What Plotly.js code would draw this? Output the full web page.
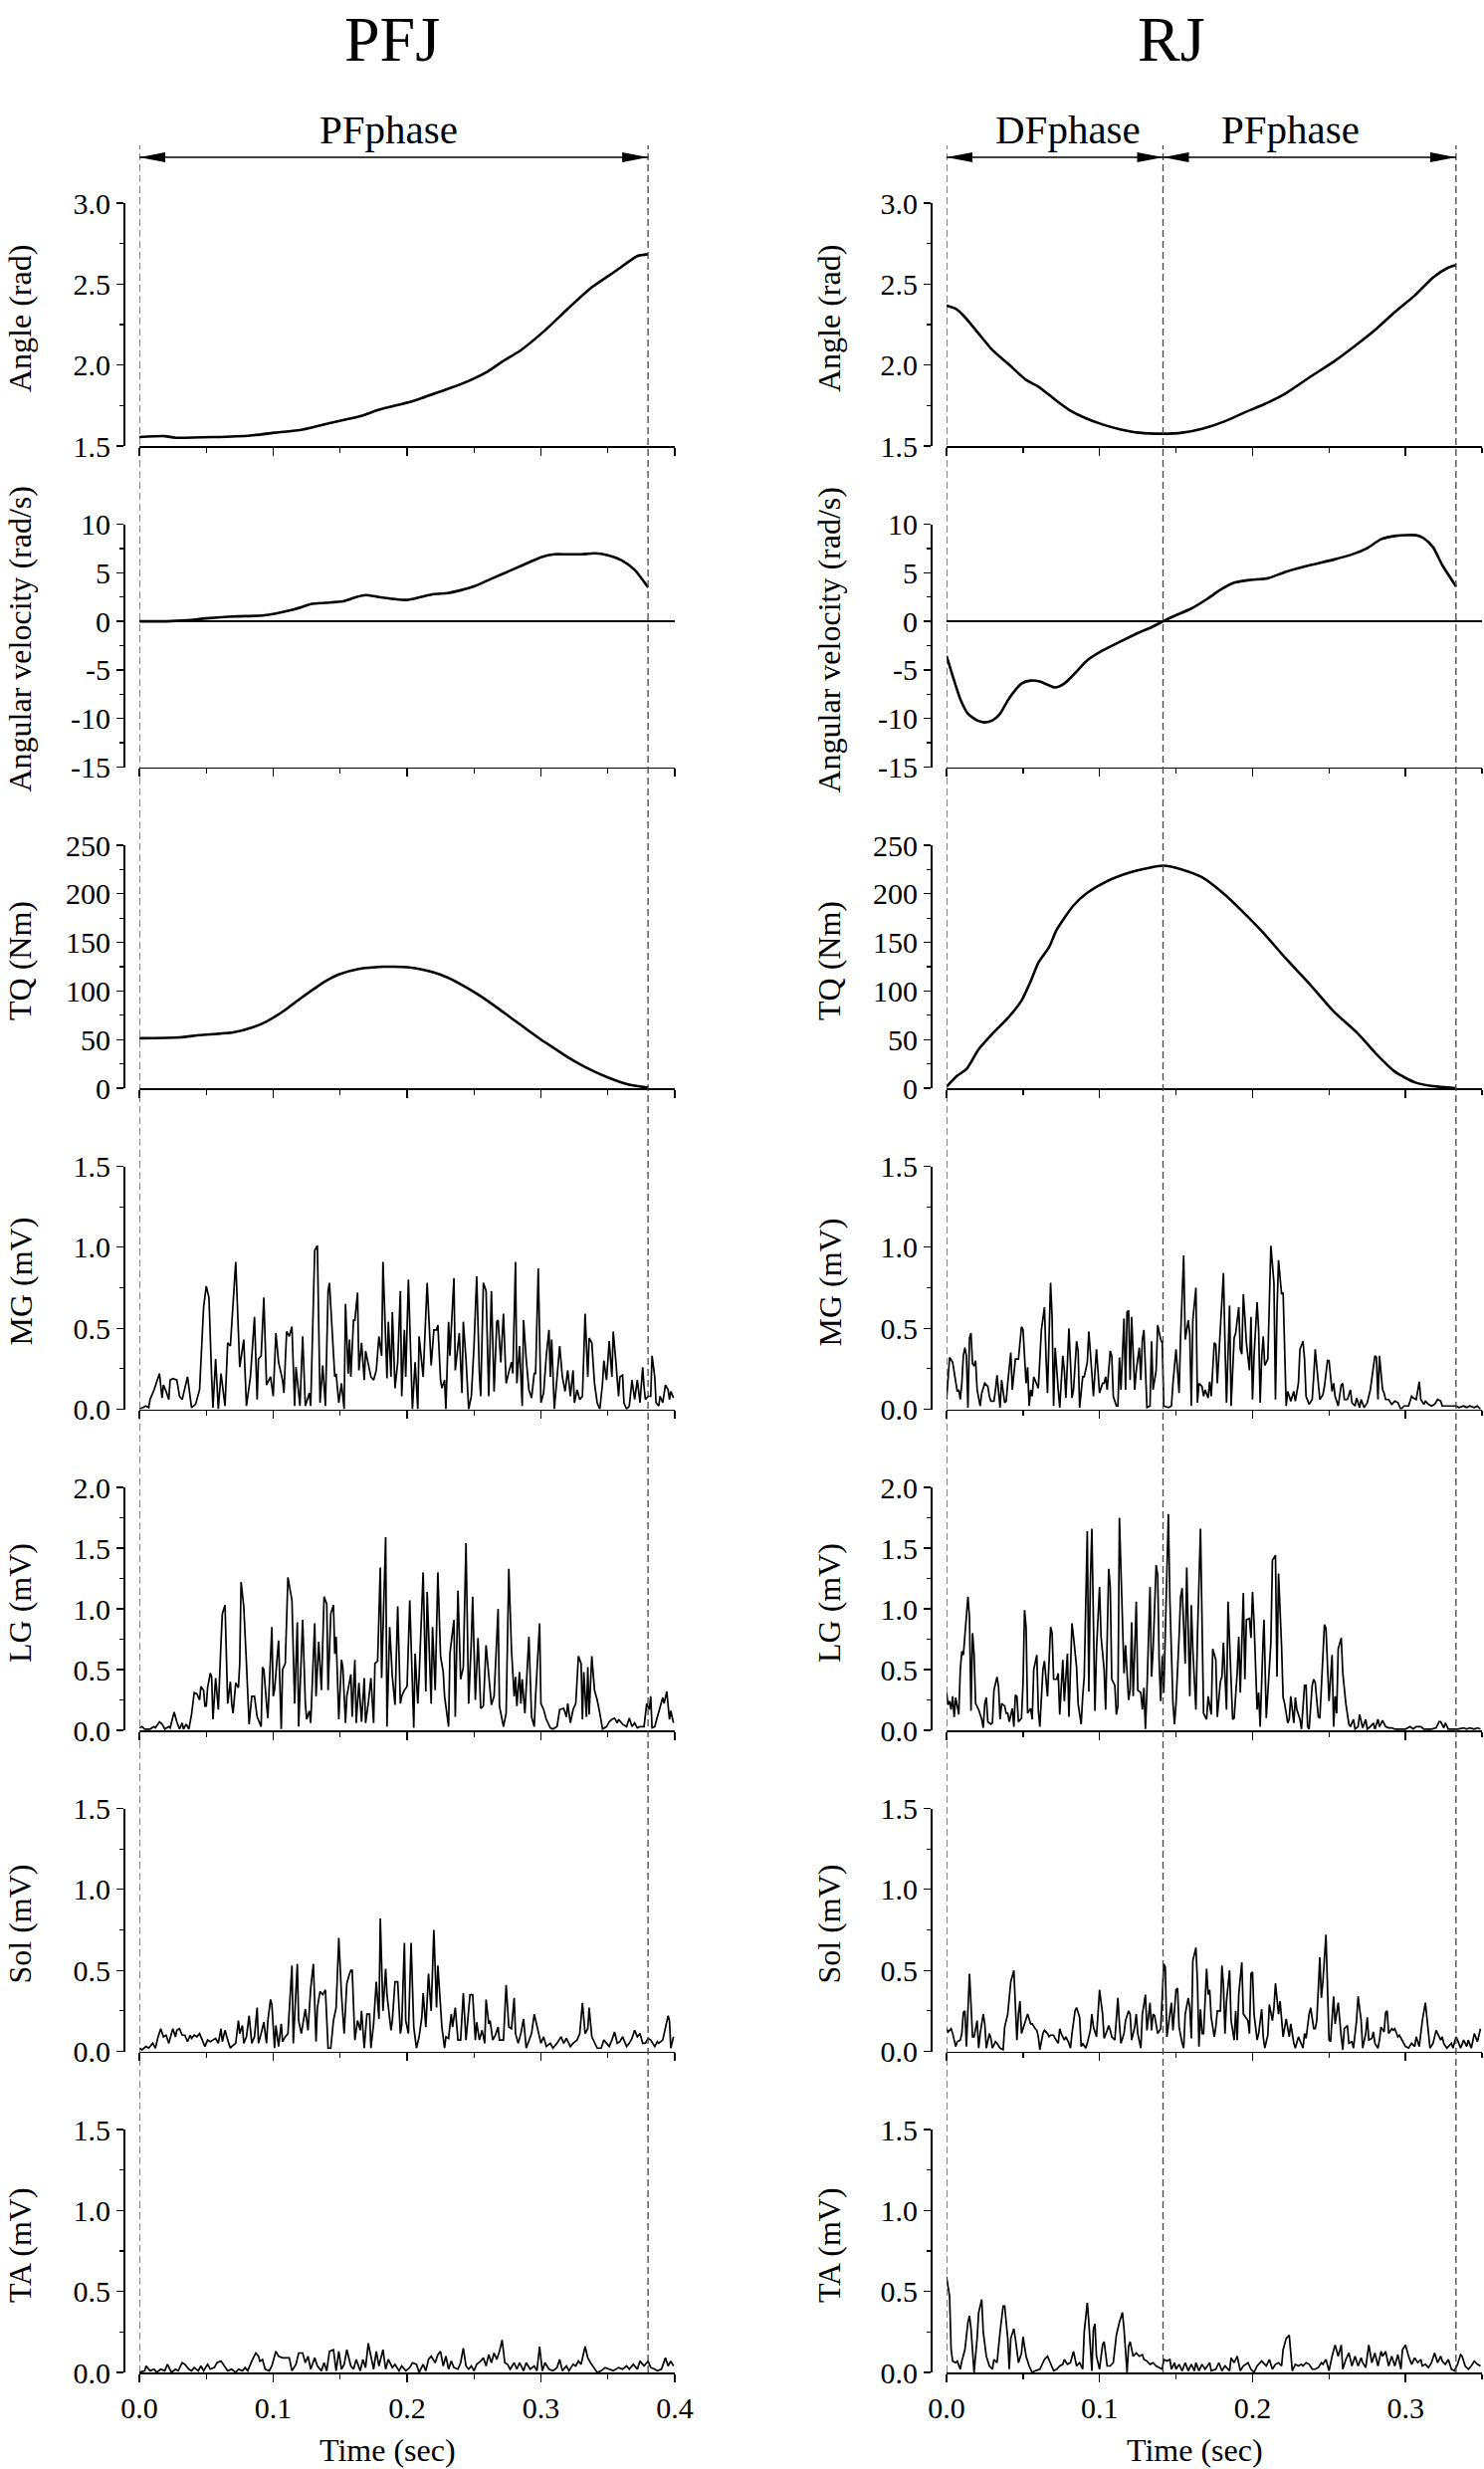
<!DOCTYPE html>
<html>
<head>
<meta charset="utf-8">
<script src="https://cdn.plot.ly/plotly-3.0.1.min.js"></script>
<style>
  html, body { margin: 0; padding: 0; background: #fff; }
</style>
</head>
<body>
<div id="chart" style="width:1491px;height:2480px"></div>
<script>
// ---- data: [time (s), value] ----

// PFJ column
const pfjAngle = [[0,1.555],[0.019,1.561],[0.027,1.551],[0.055,1.555],[0.083,1.565],[0.101,1.582],[0.122,1.602],[0.143,1.643],[0.165,1.684],[0.179,1.724],[0.204,1.776],[0.225,1.837],[0.242,1.888],[0.260,1.959],[0.271,2.020],[0.285,2.092],[0.303,2.214],[0.320,2.347],[0.338,2.480],[0.356,2.582],[0.372,2.673],[0.380,2.684]];

const pfjVel = [[0,0],[0.02,0],[0.035,0.1],[0.05,0.3],[0.07,0.5],[0.092,0.6],[0.102,0.8],[0.112,1.1],[0.122,1.5],[0.129,1.8],[0.139,1.9],[0.152,2.05],[0.162,2.5],[0.169,2.7],[0.179,2.5],[0.19,2.3],[0.2,2.2],[0.21,2.5],[0.22,2.8],[0.23,2.9],[0.24,3.2],[0.25,3.6],[0.26,4.2],[0.27,4.8],[0.28,5.4],[0.29,6.0],[0.30,6.6],[0.31,6.9],[0.32,6.9],[0.33,6.9],[0.34,7.0],[0.35,6.8],[0.36,6.3],[0.37,5.3],[0.38,3.5]];

const pfjTq = [[0,51.4],[0.03,52.3],[0.045,54.5],[0.07,57.3],[0.085,62.7],[0.095,68.6],[0.107,78.6],[0.119,91],[0.132,103.6],[0.139,110],[0.149,117],[0.164,122.7],[0.182,125],[0.19,125],[0.2,124.5],[0.21,122.5],[0.22,119],[0.23,114],[0.24,107],[0.25,99],[0.26,90],[0.27,80],[0.28,70],[0.29,60],[0.30,50],[0.31,41],[0.32,32],[0.33,24],[0.34,17],[0.35,11],[0.36,6],[0.37,2.5],[0.38,0.5]];

const pfjMg = [[0,0],[0.003,0.01],[0.005,0.02],[0.007,0.01],[0.008,0.06],[0.011,0.12],[0.014,0.20],[0.015,0.22],[0.017,0.07],[0.018,0.15],[0.020,0.11],[0.022,0.06],[0.023,0.18],[0.025,0.19],[0.028,0.18],[0.030,0.08],[0.032,0.06],[0.034,0.13],[0.036,0.20],[0.039,0.01],[0.042,0.03],[0.045,0.12],[0.048,0.63],[0.050,0.76],[0.052,0.69],[0.054,0.20],[0.055,0.01],[0.057,0.31],[0.059,0.00],[0.061,0.22],[0.063,0.09],[0.064,0.02],[0.066,0.41],[0.068,0.39],[0.072,0.91],[0.075,0.26],[0.078,0.43],[0.080,0.02],[0.083,0.20],[0.086,0.57],[0.088,0.06],[0.089,0.31],[0.091,0.33],[0.093,0.69],[0.095,0.15],[0.098,0.20],[0.100,0.08],[0.102,0.47],[0.104,0.29],[0.107,0.18],[0.108,0.10],[0.110,0.48],[0.112,0.45],[0.114,0.51],[0.116,0.02],[0.117,0.26],[0.120,0.02],[0.122,0.45],[0.124,0.02],[0.127,0.10],[0.128,0.02],[0.131,0.98],[0.133,1.01],[0.135,0.04],[0.137,0.27],[0.139,0.02],[0.141,0.73],[0.142,0.78],[0.144,0.49],[0.146,0.20],[0.147,0.22],[0.149,0.04],[0.151,0.16],[0.153,0.00],[0.154,0.65],[0.156,0.22],[0.157,0.43],[0.158,0.20],[0.160,0.55],[0.161,0.55],[0.163,0.72],[0.164,0.24],[0.166,0.41],[0.168,0.18],[0.169,0.36],[0.171,0.29],[0.173,0.20],[0.175,0.18],[0.177,0.24],[0.179,0.45],[0.181,0.33],[0.182,0.91],[0.185,0.19],[0.186,0.54],[0.188,0.20],[0.189,0.60],[0.191,0.13],[0.193,0.29],[0.195,0.73],[0.196,0.08],[0.198,0.49],[0.199,0.20],[0.201,0.80],[0.204,0.00],[0.206,0.29],[0.208,0.00],[0.209,0.45],[0.212,0.20],[0.214,0.55],[0.215,0.78],[0.218,0.27],[0.220,0.49],[0.222,0.49],[0.223,0.52],[0.225,0.18],[0.226,0.13],[0.228,0.18],[0.229,0.00],[0.231,0.54],[0.232,0.33],[0.235,0.81],[0.236,0.24],[0.239,0.47],[0.241,0.10],[0.242,0.54],[0.244,0.31],[0.246,0.00],[0.248,0.08],[0.250,0.39],[0.252,0.82],[0.254,0.22],[0.255,0.08],[0.257,0.78],[0.259,0.73],[0.261,0.08],[0.263,0.73],[0.265,0.11],[0.267,0.54],[0.268,0.55],[0.270,0.29],[0.272,0.59],[0.274,0.16],[0.276,0.23],[0.278,0.29],[0.279,0.22],[0.281,0.91],[0.282,0.16],[0.284,0.39],[0.286,0.02],[0.287,0.55],[0.289,0.31],[0.291,0.12],[0.293,0.07],[0.295,0.22],[0.296,0.22],[0.298,0.87],[0.300,0.04],[0.302,0.10],[0.304,0.33],[0.306,0.49],[0.307,0.20],[0.308,0.43],[0.310,0.00],[0.312,0.19],[0.314,0.39],[0.316,0.20],[0.318,0.11],[0.320,0.24],[0.322,0.08],[0.324,0.24],[0.325,0.04],[0.327,0.12],[0.329,0.06],[0.331,0.08],[0.333,0.59],[0.335,0.20],[0.336,0.44],[0.338,0.41],[0.340,0.16],[0.342,0.04],[0.344,0.00],[0.346,0.16],[0.347,0.30],[0.349,0.18],[0.351,0.42],[0.353,0.20],[0.354,0.48],[0.356,0.29],[0.358,0.08],[0.359,0.20],[0.361,0.21],[0.362,0.04],[0.364,0.00],[0.366,0.02],[0.368,0.18],[0.370,0.06],[0.372,0.18],[0.374,0.04],[0.376,0.26],[0.377,0.14],[0.378,0.06],[0.380,0.08],[0.382,0.08],[0.383,0.33],[0.385,0.20],[0.386,0.04],[0.388,0.02],[0.389,0.08],[0.391,0.04],[0.393,0.15],[0.395,0.12],[0.396,0.06],[0.397,0.11],[0.399,0.07]];

const pfjLg = [[0,0.02],[0.002,0.03],[0.004,0.01],[0.008,0.01],[0.011,0.03],[0.012,0.02],[0.015,0.07],[0.017,0.05],[0.019,0.01],[0.022,0.03],[0.023,0.02],[0.026,0.15],[0.028,0.07],[0.030,0.01],[0.032,0.06],[0.033,0.01],[0.035,0.05],[0.037,0.01],[0.039,0.13],[0.041,0.31],[0.043,0.30],[0.045,0.25],[0.046,0.36],[0.048,0.33],[0.049,0.20],[0.050,0.20],[0.051,0.35],[0.053,0.47],[0.054,0.44],[0.055,0.09],[0.057,0.43],[0.059,0.17],[0.061,0.72],[0.062,0.96],[0.064,1.03],[0.066,0.22],[0.068,0.40],[0.069,0.22],[0.070,0.14],[0.072,0.39],[0.074,0.35],[0.075,0.55],[0.076,1.22],[0.078,1.02],[0.080,0.55],[0.082,0.05],[0.084,0.28],[0.086,0.28],[0.088,0.11],[0.091,0.03],[0.092,0.52],[0.093,0.50],[0.095,0.22],[0.096,0.10],[0.099,0.85],[0.100,0.28],[0.101,0.33],[0.103,0.66],[0.104,0.74],[0.106,0.01],[0.107,0.50],[0.109,0.55],[0.111,1.26],[0.114,1.07],[0.116,0.22],[0.118,0.89],[0.119,0.03],[0.122,0.91],[0.124,0.22],[0.125,0.09],[0.127,0.16],[0.128,0.06],[0.131,0.88],[0.132,0.28],[0.134,0.73],[0.136,0.33],[0.138,1.10],[0.140,1.04],[0.141,0.33],[0.143,0.96],[0.145,1.03],[0.146,0.63],[0.147,0.77],[0.149,0.09],[0.151,0.58],[0.152,0.52],[0.154,0.06],[0.155,0.28],[0.158,0.46],[0.159,0.11],[0.161,0.58],[0.162,0.06],[0.164,0.39],[0.166,0.07],[0.168,0.43],[0.169,0.06],[0.171,0.22],[0.173,0.43],[0.175,0.06],[0.176,0.55],[0.178,0.57],[0.180,1.34],[0.181,0.43],[0.184,1.59],[0.185,0.03],[0.187,0.85],[0.189,0.44],[0.191,0.21],[0.193,1.02],[0.195,0.22],[0.196,0.28],[0.198,0.33],[0.200,0.36],[0.202,1.07],[0.205,0.02],[0.206,0.63],[0.208,0.22],[0.209,0.44],[0.212,1.30],[0.214,0.32],[0.215,1.14],[0.218,0.22],[0.219,0.85],[0.221,0.33],[0.223,1.30],[0.225,0.61],[0.227,0.48],[0.228,0.28],[0.231,0.03],[0.232,0.63],[0.235,0.91],[0.236,0.11],[0.238,1.15],[0.240,0.42],[0.242,0.52],[0.244,1.54],[0.246,0.22],[0.248,0.74],[0.249,1.10],[0.251,0.25],[0.253,0.76],[0.255,0.18],[0.257,0.20],[0.259,0.70],[0.261,0.44],[0.263,0.21],[0.265,0.28],[0.268,1.00],[0.269,0.20],[0.272,0.03],[0.274,0.14],[0.276,1.33],[0.278,0.66],[0.280,0.28],[0.281,0.44],[0.282,0.20],[0.284,0.48],[0.285,0.22],[0.286,0.42],[0.288,0.14],[0.291,0.77],[0.293,0.11],[0.295,0.03],[0.296,0.28],[0.299,0.88],[0.300,0.22],[0.302,0.17],[0.304,0.09],[0.307,0.02],[0.309,0.01],[0.312,0.03],[0.314,0.17],[0.317,0.18],[0.319,0.11],[0.320,0.22],[0.322,0.06],[0.324,0.17],[0.326,0.22],[0.328,0.61],[0.330,0.55],[0.331,0.09],[0.332,0.48],[0.334,0.11],[0.335,0.52],[0.336,0.13],[0.338,0.61],[0.340,0.33],[0.342,0.25],[0.344,0.14],[0.346,0.01],[0.349,0.03],[0.351,0.07],[0.353,0.09],[0.355,0.10],[0.357,0.06],[0.358,0.09],[0.361,0.05],[0.364,0.03],[0.366,0.10],[0.368,0.03],[0.370,0.06],[0.372,0.02],[0.374,0.03],[0.377,0.03],[0.379,0.22],[0.381,0.17],[0.382,0.28],[0.383,0.02],[0.385,0.03],[0.387,0.11],[0.388,0.16],[0.391,0.27],[0.392,0.22],[0.394,0.32],[0.396,0.09],[0.397,0.16],[0.399,0.06]];

const pfjSol = [[0,0.02],[0.002,0.01],[0.005,0.03],[0.007,0.02],[0.010,0.05],[0.012,0.02],[0.014,0.09],[0.016,0.14],[0.018,0.09],[0.020,0.10],[0.022,0.05],[0.024,0.11],[0.025,0.14],[0.027,0.09],[0.028,0.13],[0.030,0.14],[0.032,0.10],[0.034,0.10],[0.036,0.06],[0.038,0.10],[0.039,0.08],[0.041,0.10],[0.043,0.09],[0.045,0.11],[0.047,0.07],[0.049,0.03],[0.051,0.07],[0.053,0.06],[0.055,0.07],[0.057,0.08],[0.059,0.05],[0.061,0.14],[0.062,0.06],[0.064,0.13],[0.066,0.07],[0.068,0.02],[0.069,0.03],[0.072,0.05],[0.074,0.19],[0.075,0.11],[0.077,0.16],[0.078,0.05],[0.080,0.09],[0.082,0.22],[0.084,0.05],[0.086,0.09],[0.088,0.27],[0.089,0.05],[0.091,0.11],[0.093,0.18],[0.095,0.05],[0.096,0.19],[0.098,0.32],[0.099,0.29],[0.101,0.02],[0.102,0.16],[0.104,0.03],[0.106,0.17],[0.107,0.06],[0.109,0.09],[0.111,0.11],[0.114,0.53],[0.115,0.05],[0.118,0.54],[0.119,0.19],[0.121,0.11],[0.122,0.16],[0.124,0.26],[0.126,0.13],[0.128,0.39],[0.130,0.54],[0.132,0.06],[0.133,0.27],[0.135,0.37],[0.137,0.35],[0.139,0.38],[0.141,0.02],[0.143,0.02],[0.145,0.19],[0.147,0.27],[0.149,0.70],[0.151,0.35],[0.153,0.11],[0.155,0.42],[0.157,0.48],[0.158,0.50],[0.159,0.50],[0.161,0.07],[0.163,0.19],[0.165,0.13],[0.166,0.25],[0.168,0.02],[0.170,0.23],[0.172,0.23],[0.173,0.02],[0.175,0.17],[0.177,0.43],[0.179,0.20],[0.180,0.82],[0.182,0.25],[0.184,0.51],[0.185,0.35],[0.188,0.13],[0.189,0.19],[0.191,0.43],[0.193,0.43],[0.195,0.11],[0.196,0.16],[0.198,0.67],[0.199,0.19],[0.201,0.11],[0.203,0.67],[0.205,0.15],[0.207,0.02],[0.209,0.09],[0.211,0.21],[0.212,0.36],[0.214,0.15],[0.216,0.48],[0.218,0.25],[0.220,0.75],[0.222,0.27],[0.223,0.53],[0.226,0.15],[0.228,0.02],[0.229,0.09],[0.231,0.08],[0.233,0.23],[0.234,0.15],[0.236,0.27],[0.238,0.07],[0.240,0.07],[0.242,0.36],[0.244,0.07],[0.245,0.16],[0.247,0.35],[0.249,0.35],[0.251,0.07],[0.252,0.18],[0.254,0.07],[0.256,0.13],[0.258,0.05],[0.259,0.32],[0.261,0.17],[0.262,0.19],[0.264,0.07],[0.266,0.10],[0.268,0.15],[0.269,0.07],[0.272,0.07],[0.274,0.41],[0.276,0.15],[0.278,0.14],[0.280,0.33],[0.281,0.11],[0.283,0.05],[0.285,0.11],[0.287,0.20],[0.289,0.02],[0.291,0.07],[0.293,0.11],[0.295,0.23],[0.296,0.19],[0.298,0.11],[0.300,0.05],[0.302,0.09],[0.304,0.03],[0.307,0.05],[0.309,0.02],[0.312,0.05],[0.315,0.09],[0.317,0.05],[0.319,0.08],[0.322,0.03],[0.324,0.05],[0.327,0.07],[0.329,0.11],[0.331,0.30],[0.333,0.11],[0.335,0.14],[0.336,0.27],[0.338,0.09],[0.340,0.05],[0.342,0.02],[0.345,0.02],[0.347,0.07],[0.349,0.05],[0.351,0.03],[0.353,0.07],[0.355,0.12],[0.357,0.05],[0.359,0.06],[0.361,0.09],[0.364,0.03],[0.366,0.05],[0.368,0.08],[0.370,0.13],[0.372,0.09],[0.374,0.11],[0.376,0.05],[0.378,0.05],[0.380,0.08],[0.382,0.07],[0.385,0.03],[0.387,0.06],[0.388,0.05],[0.391,0.07],[0.393,0.14],[0.395,0.22],[0.396,0.19],[0.397,0.02],[0.399,0.09]];

const pfjTa = [[0,0],[0.004,0.01],[0.005,0.04],[0.008,0.01],[0.011,0.02],[0.013,0.00],[0.016,0.02],[0.019,0.01],[0.021,0.05],[0.024,0.00],[0.027,0.02],[0.029,0.01],[0.032,0.06],[0.034,0.05],[0.037,0.02],[0.039,0.01],[0.041,0.03],[0.044,0.01],[0.046,0.04],[0.048,0.01],[0.051,0.05],[0.053,0.02],[0.056,0.03],[0.058,0.06],[0.061,0.07],[0.064,0.03],[0.066,0.01],[0.069,0.02],[0.072,0.00],[0.074,0.02],[0.077,0.01],[0.079,0.03],[0.081,0.01],[0.084,0.07],[0.087,0.12],[0.089,0.10],[0.090,0.07],[0.092,0.08],[0.094,0.02],[0.097,0.01],[0.099,0.04],[0.102,0.13],[0.104,0.10],[0.107,0.09],[0.110,0.09],[0.112,0.09],[0.114,0.01],[0.117,0.05],[0.119,0.12],[0.122,0.12],[0.124,0.06],[0.126,0.10],[0.128,0.02],[0.131,0.09],[0.133,0.04],[0.136,0.01],[0.138,0.06],[0.140,0.01],[0.142,0.13],[0.145,0.14],[0.147,0.01],[0.149,0.13],[0.151,0.02],[0.153,0.05],[0.155,0.14],[0.158,0.04],[0.160,0.02],[0.162,0.08],[0.165,0.01],[0.167,0.08],[0.169,0.03],[0.171,0.18],[0.173,0.10],[0.175,0.02],[0.177,0.13],[0.179,0.04],[0.182,0.14],[0.184,0.02],[0.186,0.08],[0.189,0.03],[0.191,0.05],[0.194,0.01],[0.196,0.04],[0.199,0.01],[0.202,0.03],[0.204,0.06],[0.207,0.05],[0.209,0.00],[0.212,0.05],[0.214,0.01],[0.216,0.08],[0.218,0.10],[0.221,0.06],[0.223,0.11],[0.225,0.13],[0.227,0.04],[0.229,0.10],[0.231,0.02],[0.233,0.07],[0.235,0.03],[0.238,0.02],[0.240,0.06],[0.242,0.15],[0.244,0.04],[0.246,0.02],[0.248,0.04],[0.250,0.01],[0.252,0.05],[0.255,0.07],[0.257,0.09],[0.259,0.04],[0.261,0.11],[0.263,0.06],[0.265,0.12],[0.267,0.08],[0.269,0.13],[0.271,0.20],[0.273,0.06],[0.275,0.05],[0.277,0.02],[0.280,0.06],[0.282,0.02],[0.284,0.06],[0.287,0.01],[0.289,0.06],[0.292,0.02],[0.295,0.04],[0.297,0.01],[0.299,0.16],[0.301,0.01],[0.303,0.06],[0.306,0.02],[0.309,0.01],[0.312,0.03],[0.314,0.08],[0.316,0.01],[0.319,0.04],[0.321,0.01],[0.324,0.05],[0.326,0.04],[0.328,0.07],[0.330,0.05],[0.333,0.16],[0.335,0.09],[0.337,0.06],[0.340,0.02],[0.342,0.00],[0.345,0.01],[0.348,0.03],[0.351,0.02],[0.354,0.01],[0.358,0.03],[0.361,0.02],[0.364,0.04],[0.366,0.02],[0.369,0.05],[0.372,0.02],[0.374,0.07],[0.377,0.04],[0.380,0.07],[0.382,0.03],[0.385,0.02],[0.387,0.01],[0.390,0.02],[0.393,0.09],[0.395,0.04],[0.397,0.07],[0.399,0.04]];

// RJ column
const rjAngle = [[0,2.367],[0.006,2.347],[0.012,2.296],[0.021,2.194],[0.030,2.092],[0.040,2.010],[0.052,1.908],[0.060,1.867],[0.071,1.786],[0.080,1.724],[0.089,1.680],[0.102,1.633],[0.114,1.602],[0.126,1.582],[0.1415,1.576],[0.154,1.582],[0.167,1.606],[0.182,1.653],[0.194,1.704],[0.207,1.755],[0.222,1.827],[0.238,1.929],[0.253,2.020],[0.269,2.133],[0.281,2.224],[0.293,2.327],[0.306,2.429],[0.318,2.541],[0.328,2.602],[0.333,2.618]];

const rjVel = [[0,-3.56],[0.004,-5.6],[0.009,-8.0],[0.014,-9.5],[0.020,-10.2],[0.025,-10.4],[0.030,-10.2],[0.035,-9.5],[0.041,-7.9],[0.049,-6.4],[0.055,-6.1],[0.061,-6.2],[0.071,-6.8],[0.077,-6.4],[0.083,-5.5],[0.092,-4.0],[0.102,-3.0],[0.114,-2.05],[0.126,-1.14],[0.133,-0.68],[0.1415,0],[0.148,0.5],[0.160,1.32],[0.171,2.37],[0.179,3.24],[0.188,3.97],[0.198,4.25],[0.210,4.43],[0.222,5.11],[0.238,5.8],[0.253,6.35],[0.266,6.94],[0.275,7.53],[0.284,8.45],[0.294,8.81],[0.307,8.86],[0.312,8.54],[0.318,7.63],[0.324,5.8],[0.333,3.6]];

const rjTq = [[0,1.4],[0.007,12.7],[0.013,19.5],[0.021,40],[0.030,56],[0.040,72],[0.049,90],[0.055,110],[0.060,129],[0.067,145],[0.072,163],[0.083,188],[0.092,201],[0.105,213],[0.120,222],[0.133,227],[0.1415,229],[0.154,225],[0.167,217],[0.182,199],[0.194,181],[0.207,160],[0.222,133],[0.238,106],[0.253,79],[0.269,56],[0.281,35],[0.293,17],[0.306,6],[0.318,2],[0.333,0]];

const rjMg = [[0,0.06],[0.001,0.20],[0.002,0.32],[0.004,0.29],[0.006,0.16],[0.007,0.11],[0.008,0.12],[0.009,0.06],[0.010,0.16],[0.011,0.33],[0.012,0.38],[0.013,0.33],[0.014,0.01],[0.015,0.44],[0.016,0.47],[0.017,0.28],[0.018,0.27],[0.019,0.30],[0.020,0.12],[0.022,0.02],[0.023,0.10],[0.025,0.16],[0.027,0.14],[0.028,0.08],[0.029,0.05],[0.031,0.05],[0.032,0.12],[0.033,0.21],[0.035,0.01],[0.036,0.18],[0.038,0.04],[0.039,0.05],[0.040,0.16],[0.042,0.35],[0.043,0.12],[0.045,0.31],[0.047,0.31],[0.048,0.41],[0.049,0.51],[0.050,0.49],[0.052,0.16],[0.053,0.26],[0.054,0.02],[0.055,0.12],[0.056,0.08],[0.057,0.20],[0.059,0.16],[0.060,0.13],[0.062,0.49],[0.064,0.63],[0.065,0.33],[0.066,0.10],[0.068,0.78],[0.069,0.57],[0.070,0.02],[0.071,0.38],[0.073,0.12],[0.074,0.01],[0.076,0.33],[0.077,0.24],[0.078,0.07],[0.080,0.50],[0.081,0.29],[0.082,0.07],[0.083,0.12],[0.085,0.42],[0.086,0.36],[0.087,0.01],[0.089,0.20],[0.090,0.20],[0.092,0.29],[0.093,0.48],[0.095,0.22],[0.096,0.08],[0.098,0.37],[0.099,0.20],[0.100,0.10],[0.102,0.16],[0.103,0.16],[0.104,0.20],[0.105,0.12],[0.107,0.36],[0.108,0.33],[0.109,0.08],[0.111,0.02],[0.112,0.02],[0.113,0.32],[0.114,0.12],[0.116,0.56],[0.117,0.12],[0.118,0.60],[0.119,0.61],[0.120,0.18],[0.121,0.57],[0.123,0.12],[0.124,0.24],[0.126,0.38],[0.127,0.18],[0.128,0.43],[0.129,0.49],[0.130,0.24],[0.131,0.01],[0.133,0.02],[0.134,0.42],[0.135,0.12],[0.137,0.24],[0.138,0.52],[0.140,0.43],[0.141,0.41],[0.142,0.02],[0.145,0.01],[0.147,0.02],[0.148,0.16],[0.150,0.37],[0.151,0.24],[0.152,0.10],[0.153,0.45],[0.155,0.95],[0.156,0.43],[0.158,0.55],[0.159,0.46],[0.160,0.02],[0.161,0.55],[0.163,0.75],[0.164,0.04],[0.165,0.16],[0.167,0.14],[0.168,0.08],[0.169,0.12],[0.171,0.07],[0.172,0.17],[0.173,0.08],[0.175,0.41],[0.176,0.40],[0.177,0.16],[0.179,0.50],[0.181,0.84],[0.182,0.41],[0.183,0.04],[0.185,0.64],[0.186,0.02],[0.188,0.44],[0.189,0.47],[0.191,0.63],[0.192,0.37],[0.193,0.34],[0.194,0.71],[0.195,0.57],[0.196,0.41],[0.198,0.24],[0.199,0.57],[0.200,0.06],[0.201,0.33],[0.203,0.66],[0.204,0.49],[0.205,0.04],[0.206,0.32],[0.207,0.45],[0.208,0.27],[0.210,0.31],[0.211,0.71],[0.212,1.01],[0.214,0.78],[0.215,0.06],[0.216,0.61],[0.217,0.92],[0.219,0.71],[0.220,0.72],[0.222,0.02],[0.223,0.11],[0.225,0.05],[0.227,0.11],[0.228,0.05],[0.230,0.16],[0.231,0.37],[0.233,0.42],[0.234,0.31],[0.235,0.08],[0.237,0.03],[0.239,0.06],[0.240,0.20],[0.241,0.37],[0.243,0.16],[0.244,0.06],[0.246,0.09],[0.247,0.14],[0.249,0.30],[0.250,0.30],[0.252,0.11],[0.253,0.16],[0.254,0.08],[0.256,0.02],[0.258,0.15],[0.259,0.16],[0.260,0.06],[0.262,0.06],[0.264,0.12],[0.265,0.04],[0.267,0.02],[0.268,0.07],[0.270,0.01],[0.271,0.06],[0.273,0.01],[0.275,0.04],[0.277,0.12],[0.278,0.20],[0.280,0.33],[0.281,0.32],[0.282,0.06],[0.283,0.33],[0.285,0.12],[0.286,0.10],[0.287,0.06],[0.289,0.06],[0.291,0.03],[0.293,0.05],[0.295,0.04],[0.297,0.00],[0.299,0.02],[0.302,0.02],[0.304,0.08],[0.305,0.07],[0.307,0.06],[0.309,0.17],[0.310,0.06],[0.312,0.03],[0.313,0.05],[0.315,0.03],[0.317,0.02],[0.319,0.03],[0.321,0.06],[0.323,0.05],[0.324,0.02],[0.326,0.02],[0.328,0.02],[0.331,0.02],[0.333,0.02],[0.335,0.01],[0.338,0.02],[0.340,0.01],[0.342,0.02],[0.345,0.01],[0.347,0.02],[0.349,0.00]];

const rjLg = [[0,0.31],[0.001,0.21],[0.002,0.24],[0.003,0.17],[0.004,0.28],[0.005,0.11],[0.006,0.27],[0.007,0.20],[0.008,0.13],[0.009,0.50],[0.010,0.65],[0.011,0.62],[0.012,0.77],[0.014,1.10],[0.015,0.93],[0.016,0.16],[0.017,0.80],[0.018,0.63],[0.019,0.22],[0.020,0.20],[0.021,0.17],[0.023,0.09],[0.024,0.02],[0.025,0.22],[0.026,0.27],[0.027,0.07],[0.029,0.05],[0.030,0.06],[0.031,0.33],[0.033,0.44],[0.034,0.36],[0.035,0.09],[0.036,0.22],[0.038,0.20],[0.039,0.14],[0.040,0.14],[0.041,0.07],[0.043,0.18],[0.044,0.03],[0.045,0.29],[0.046,0.28],[0.047,0.07],[0.049,0.10],[0.050,0.39],[0.051,0.99],[0.052,0.85],[0.053,0.14],[0.055,0.18],[0.056,0.09],[0.057,0.50],[0.059,0.62],[0.060,0.16],[0.061,0.03],[0.063,0.50],[0.064,0.57],[0.066,0.28],[0.068,0.85],[0.069,0.80],[0.070,0.42],[0.072,0.42],[0.073,0.47],[0.074,0.13],[0.076,0.58],[0.077,0.24],[0.079,0.63],[0.080,0.11],[0.082,0.88],[0.083,0.77],[0.085,0.52],[0.086,0.22],[0.088,0.05],[0.089,0.28],[0.090,0.44],[0.092,1.64],[0.093,0.32],[0.094,1.23],[0.095,1.66],[0.097,0.16],[0.098,0.66],[0.100,1.18],[0.101,0.77],[0.103,0.50],[0.104,0.17],[0.106,1.33],[0.107,1.18],[0.108,0.42],[0.110,0.37],[0.111,0.13],[0.112,0.20],[0.113,1.75],[0.115,0.80],[0.116,0.47],[0.117,0.70],[0.119,0.25],[0.120,0.33],[0.121,0.89],[0.122,0.28],[0.124,1.06],[0.125,0.33],[0.127,0.31],[0.128,0.17],[0.129,0.35],[0.130,0.01],[0.131,0.33],[0.133,1.18],[0.134,0.44],[0.135,0.66],[0.137,1.36],[0.138,1.28],[0.139,0.55],[0.140,0.24],[0.141,0.61],[0.142,0.31],[0.144,1.23],[0.145,1.78],[0.146,1.07],[0.148,0.22],[0.149,0.05],[0.150,0.22],[0.152,0.77],[0.153,1.10],[0.154,1.17],[0.156,0.55],[0.157,1.34],[0.159,0.28],[0.160,1.03],[0.161,0.66],[0.163,0.17],[0.164,0.77],[0.166,1.66],[0.167,0.66],[0.168,0.14],[0.170,0.09],[0.171,0.28],[0.173,0.13],[0.174,0.67],[0.176,0.58],[0.177,0.11],[0.179,0.40],[0.180,0.44],[0.181,0.72],[0.183,0.17],[0.184,1.06],[0.186,0.31],[0.187,0.09],[0.188,0.10],[0.190,0.48],[0.191,0.77],[0.192,0.31],[0.194,1.13],[0.195,0.42],[0.196,0.91],[0.198,0.92],[0.199,0.76],[0.200,1.14],[0.201,0.89],[0.203,0.17],[0.204,0.31],[0.205,0.03],[0.207,0.77],[0.2075,0.91],[0.209,0.10],[0.210,0.28],[0.212,0.72],[0.213,1.40],[0.215,1.44],[0.216,0.44],[0.217,1.29],[0.219,0.69],[0.220,0.27],[0.221,0.22],[0.223,0.06],[0.224,0.09],[0.225,0.28],[0.227,0.06],[0.228,0.27],[0.229,0.17],[0.231,0.09],[0.232,0.01],[0.234,0.37],[0.235,0.37],[0.236,0.03],[0.237,0.01],[0.239,0.37],[0.240,0.42],[0.241,0.39],[0.243,0.11],[0.244,0.10],[0.246,0.61],[0.247,0.87],[0.248,0.84],[0.250,0.24],[0.252,0.62],[0.253,0.03],[0.254,0.28],[0.255,0.14],[0.256,0.67],[0.258,0.76],[0.259,0.47],[0.260,0.33],[0.261,0.22],[0.263,0.05],[0.264,0.03],[0.266,0.09],[0.267,0.01],[0.269,0.03],[0.270,0.13],[0.272,0.02],[0.274,0.09],[0.275,0.01],[0.277,0.03],[0.279,0.06],[0.280,0.01],[0.282,0.09],[0.283,0.03],[0.285,0.08],[0.287,0.03],[0.289,0.02],[0.291,0.02],[0.293,0.01],[0.297,0.01],[0.300,0.01],[0.303,0.03],[0.305,0.01],[0.307,0.03],[0.310,0.03],[0.312,0.01],[0.317,0.01],[0.320,0.02],[0.322,0.07],[0.323,0.07],[0.325,0.02],[0.326,0.06],[0.328,0.01],[0.331,0.01],[0.334,0.01],[0.338,0.02],[0.340,0.01],[0.342,0.02],[0.345,0.01],[0.347,0.02],[0.349,0.01]];

const rjSol = [[0,0.14],[0.001,0.12],[0.003,0.14],[0.004,0.11],[0.006,0.03],[0.007,0.06],[0.009,0.07],[0.010,0.11],[0.011,0.24],[0.012,0.25],[0.013,0.03],[0.015,0.48],[0.016,0.29],[0.017,0.09],[0.018,0.09],[0.020,0.19],[0.021,0.02],[0.022,0.11],[0.024,0.23],[0.025,0.17],[0.026,0.02],[0.028,0.11],[0.029,0.08],[0.030,0.02],[0.032,0.06],[0.033,0.05],[0.035,0.02],[0.037,0.01],[0.038,0.15],[0.040,0.23],[0.041,0.33],[0.042,0.43],[0.044,0.50],[0.045,0.31],[0.046,0.07],[0.047,0.23],[0.048,0.31],[0.049,0.11],[0.051,0.17],[0.052,0.21],[0.053,0.23],[0.055,0.17],[0.056,0.17],[0.058,0.14],[0.059,0.13],[0.060,0.09],[0.061,0.01],[0.063,0.11],[0.064,0.13],[0.066,0.11],[0.067,0.09],[0.068,0.10],[0.070,0.10],[0.071,0.08],[0.073,0.05],[0.074,0.14],[0.075,0.11],[0.077,0.07],[0.078,0.09],[0.080,0.05],[0.081,0.02],[0.082,0.11],[0.084,0.25],[0.085,0.27],[0.087,0.21],[0.088,0.03],[0.089,0.05],[0.091,0.02],[0.092,0.05],[0.094,0.13],[0.095,0.23],[0.096,0.15],[0.098,0.09],[0.099,0.23],[0.100,0.38],[0.102,0.23],[0.103,0.08],[0.105,0.13],[0.106,0.16],[0.107,0.13],[0.108,0.09],[0.110,0.07],[0.111,0.23],[0.112,0.33],[0.113,0.17],[0.114,0.05],[0.116,0.11],[0.117,0.19],[0.119,0.25],[0.120,0.23],[0.121,0.07],[0.123,0.15],[0.124,0.23],[0.125,0.11],[0.127,0.02],[0.128,0.23],[0.130,0.35],[0.131,0.13],[0.133,0.30],[0.134,0.13],[0.135,0.23],[0.136,0.22],[0.138,0.11],[0.139,0.13],[0.140,0.14],[0.142,0.54],[0.143,0.52],[0.144,0.09],[0.146,0.25],[0.147,0.30],[0.148,0.13],[0.150,0.38],[0.151,0.39],[0.152,0.15],[0.154,0.05],[0.155,0.02],[0.156,0.23],[0.158,0.33],[0.159,0.27],[0.160,0.08],[0.161,0.56],[0.163,0.64],[0.164,0.43],[0.165,0.03],[0.166,0.26],[0.167,0.11],[0.168,0.11],[0.170,0.51],[0.171,0.35],[0.172,0.38],[0.173,0.21],[0.175,0.09],[0.176,0.15],[0.177,0.25],[0.179,0.25],[0.180,0.53],[0.181,0.41],[0.182,0.11],[0.183,0.31],[0.185,0.50],[0.186,0.19],[0.188,0.07],[0.189,0.25],[0.190,0.07],[0.191,0.35],[0.193,0.55],[0.194,0.23],[0.196,0.20],[0.197,0.19],[0.198,0.11],[0.199,0.48],[0.200,0.49],[0.201,0.23],[0.203,0.07],[0.204,0.11],[0.206,0.26],[0.207,0.09],[0.208,0.02],[0.210,0.10],[0.211,0.29],[0.213,0.19],[0.214,0.27],[0.215,0.42],[0.217,0.23],[0.218,0.31],[0.220,0.09],[0.221,0.15],[0.222,0.20],[0.224,0.09],[0.225,0.17],[0.227,0.05],[0.228,0.02],[0.230,0.09],[0.231,0.07],[0.233,0.02],[0.234,0.11],[0.235,0.08],[0.237,0.23],[0.238,0.27],[0.240,0.14],[0.241,0.14],[0.242,0.19],[0.244,0.58],[0.245,0.33],[0.246,0.43],[0.248,0.72],[0.249,0.43],[0.250,0.07],[0.251,0.06],[0.253,0.34],[0.254,0.17],[0.256,0.30],[0.258,0.09],[0.259,0.01],[0.260,0.14],[0.262,0.16],[0.263,0.05],[0.265,0.06],[0.266,0.02],[0.268,0.19],[0.269,0.34],[0.271,0.19],[0.272,0.02],[0.274,0.11],[0.275,0.21],[0.276,0.07],[0.278,0.08],[0.279,0.12],[0.280,0.05],[0.282,0.02],[0.283,0.07],[0.284,0.15],[0.286,0.12],[0.287,0.24],[0.288,0.25],[0.289,0.11],[0.291,0.14],[0.292,0.13],[0.293,0.14],[0.295,0.09],[0.296,0.10],[0.298,0.06],[0.300,0.03],[0.302,0.02],[0.304,0.05],[0.306,0.03],[0.307,0.09],[0.309,0.03],[0.311,0.19],[0.313,0.30],[0.314,0.19],[0.316,0.02],[0.318,0.05],[0.320,0.13],[0.321,0.11],[0.323,0.07],[0.324,0.09],[0.325,0.05],[0.327,0.02],[0.328,0.03],[0.330,0.05],[0.331,0.02],[0.333,0.09],[0.334,0.07],[0.336,0.02],[0.338,0.07],[0.340,0.03],[0.341,0.07],[0.343,0.02],[0.345,0.11],[0.346,0.09],[0.347,0.06],[0.349,0.14]];

const rjTa = [[0,0.59],[0.002,0.47],[0.003,0.14],[0.004,0.07],[0.006,0.06],[0.007,0.07],[0.009,0.02],[0.010,0.07],[0.012,0.14],[0.014,0.31],[0.015,0.35],[0.016,0.27],[0.018,0.00],[0.020,0.21],[0.021,0.37],[0.023,0.45],[0.024,0.25],[0.026,0.10],[0.028,0.04],[0.030,0.02],[0.031,0.08],[0.033,0.06],[0.035,0.25],[0.037,0.41],[0.038,0.41],[0.040,0.21],[0.041,0.02],[0.042,0.21],[0.044,0.27],[0.045,0.21],[0.047,0.06],[0.049,0.12],[0.050,0.22],[0.052,0.10],[0.054,0.04],[0.056,0.00],[0.058,0.01],[0.061,0.02],[0.063,0.06],[0.064,0.08],[0.066,0.10],[0.068,0.06],[0.070,0.01],[0.072,0.02],[0.074,0.04],[0.076,0.05],[0.077,0.08],[0.079,0.05],[0.081,0.06],[0.083,0.13],[0.085,0.04],[0.087,0.06],[0.089,0.02],[0.090,0.25],[0.092,0.43],[0.093,0.31],[0.095,0.01],[0.096,0.27],[0.097,0.30],[0.098,0.10],[0.100,0.02],[0.102,0.17],[0.103,0.19],[0.105,0.04],[0.107,0.04],[0.109,0.06],[0.111,0.23],[0.113,0.31],[0.115,0.37],[0.116,0.27],[0.118,0.00],[0.119,0.16],[0.120,0.19],[0.122,0.10],[0.124,0.12],[0.126,0.10],[0.128,0.11],[0.129,0.08],[0.131,0.07],[0.133,0.05],[0.135,0.06],[0.137,0.04],[0.139,0.03],[0.141,0.02],[0.142,0.08],[0.144,0.07],[0.146,0.08],[0.147,0.02],[0.149,0.06],[0.150,0.02],[0.152,0.05],[0.154,0.01],[0.156,0.06],[0.158,0.01],[0.160,0.05],[0.162,0.01],[0.163,0.06],[0.165,0.01],[0.167,0.05],[0.169,0.02],[0.172,0.06],[0.173,0.01],[0.176,0.02],[0.178,0.06],[0.180,0.01],[0.182,0.04],[0.185,0.01],[0.186,0.09],[0.188,0.06],[0.190,0.10],[0.192,0.01],[0.194,0.04],[0.197,0.06],[0.199,0.02],[0.201,0.00],[0.203,0.04],[0.206,0.07],[0.207,0.06],[0.209,0.04],[0.211,0.08],[0.213,0.02],[0.215,0.05],[0.217,0.06],[0.219,0.04],[0.220,0.14],[0.222,0.21],[0.224,0.23],[0.226,0.01],[0.228,0.05],[0.230,0.04],[0.232,0.05],[0.233,0.04],[0.235,0.06],[0.237,0.05],[0.239,0.02],[0.241,0.02],[0.243,0.03],[0.245,0.06],[0.246,0.05],[0.248,0.08],[0.250,0.01],[0.252,0.10],[0.254,0.17],[0.256,0.10],[0.258,0.17],[0.259,0.02],[0.261,0.08],[0.263,0.12],[0.265,0.04],[0.267,0.10],[0.269,0.04],[0.271,0.09],[0.272,0.06],[0.274,0.03],[0.276,0.17],[0.278,0.06],[0.280,0.12],[0.282,0.04],[0.284,0.13],[0.285,0.10],[0.287,0.13],[0.289,0.04],[0.291,0.10],[0.293,0.04],[0.295,0.11],[0.297,0.02],[0.298,0.14],[0.300,0.17],[0.302,0.10],[0.304,0.05],[0.306,0.09],[0.308,0.06],[0.310,0.08],[0.311,0.04],[0.313,0.05],[0.315,0.03],[0.317,0.06],[0.319,0.12],[0.321,0.06],[0.323,0.10],[0.324,0.07],[0.326,0.05],[0.328,0.08],[0.330,0.02],[0.332,0.01],[0.334,0.05],[0.336,0.11],[0.337,0.10],[0.339,0.04],[0.341,0.02],[0.343,0.04],[0.345,0.07],[0.347,0.05],[0.349,0.04]];

// phase boundaries (s) and names
const pfjPhaseBounds = [0, 0.38];
const pfjPhaseNames = ['PFphase'];
const rjPhaseBounds = [0, 0.1415, 0.333];
const rjPhaseNames = ['DFphase', 'PFphase'];

// row labels and axis ticks
const rowLabels = ['Angle (rad)', 'Angular velocity (rad/s)', 'TQ (Nm)', 'MG (mV)', 'LG (mV)', 'Sol (mV)', 'TA (mV)'];
const velTickVals = [-15, -10, -5, 0, 5, 10];
const velTickText = ['-15', '-10', '-5', '0', '5', '10'];

// ---- layout constants (pixels in a 1491 x 2480 page) ----
const W = 1491, H = 2480;
const FONT = '"Times New Roman", "Liberation Serif", "DejaVu Serif", serif';
const TICK_SIZE = 30;
const PANEL_BOTTOM = 448, PANEL_PITCH = 322.5, PANEL_HEIGHT = 244;
const ARROW_Y = 158, DASH_TOP = 146;
const HEAD_LEN = 26, HEAD_HALF = 5;

const rows = [
  { range: [1.5, 3.0], dtick: 0.5, minor: 0.25, fmt: '.1f' },
  { range: [-15, 10], tickvals: velTickVals, ticktext: velTickText, minor: 2.5, zero: true },
  { range: [0, 250], dtick: 50, minor: 25, fmt: 'd' },
  { range: [0, 1.5], dtick: 0.5, minor: 0.25, fmt: '.1f' },
  { range: [0, 2.0], dtick: 0.5, minor: 0.25, fmt: '.1f' },
  { range: [0, 1.5], dtick: 0.5, minor: 0.25, fmt: '.1f' },
  { range: [0, 1.5], dtick: 0.5, minor: 0.25, fmt: '.1f' }
];

const columns = [
  { title: 'PFJ', titleX: 394, xStart: 140, xEnd: 678, yAxisAt: 124, labelX: 20, timeX: 389,
    xRange: [0, 0.4], bounds: pfjPhaseBounds, names: pfjPhaseNames, nameShift: [-5],
    series: [pfjAngle, pfjVel, pfjTq, pfjMg, pfjLg, pfjSol, pfjTa] },
  { title: 'RJ', titleX: 1177, xStart: 951, xEnd: 1489, yAxisAt: 935, labelX: 833, timeX: 1200,
    xRange: [0, 0.35], bounds: rjPhaseBounds, names: rjPhaseNames, nameShift: [13, -19],
    series: [rjAngle, rjVel, rjTq, rjMg, rjLg, rjSol, rjTa] }
];

const py = px => 1 - px / H;   // page pixel (from top) -> paper y

const traces = [];
const layout = {
  width: W,
  height: H,
  margin: { l: 0, r: 0, t: 0, b: 0 },
  paper_bgcolor: '#ffffff',
  plot_bgcolor: 'rgba(0,0,0,0)',
  showlegend: false,
  hovermode: false,
  font: { family: FONT, color: '#000', size: TICK_SIZE },
  shapes: [],
  annotations: []
};

columns.forEach((col, c) => {
  col.series.forEach((pts, r) => {
    const n = c * rows.length + r + 1;
    const sfx = n === 1 ? '' : String(n);
    const row = rows[r];
    const bottom = PANEL_BOTTOM + PANEL_PITCH * r;

    traces.push({
      x: pts.map(p => p[0]),
      y: pts.map(p => p[1]),
      xaxis: 'x' + sfx,
      yaxis: 'y' + sfx,
      type: 'scatter',
      mode: 'lines',
      line: r < 3
        ? { color: '#000', width: 2.6, shape: 'spline', smoothing: 0.6 }
        : { color: '#000', width: 1.7 },
      hoverinfo: 'skip'
    });

    layout['xaxis' + sfx] = {
      domain: [col.xStart / W, col.xEnd / W],
      range: col.xRange,
      anchor: 'y' + sfx,
      showline: true, linecolor: '#000', linewidth: 1.5,
      ticks: 'outside', ticklen: 8, tickwidth: 1.3, tickcolor: '#000',
      tick0: 0, dtick: 0.1, tickformat: '.1f',
      minor: { ticks: 'outside', ticklen: 5, tickwidth: 1.3, tickcolor: '#000', tick0: 0, dtick: 0.05 },
      showticklabels: r === rows.length - 1,
      tickfont: { family: FONT, size: TICK_SIZE, color: '#000' },
      showgrid: false, zeroline: false, fixedrange: true
    };

    const yax = {
      domain: [py(bottom), py(bottom - PANEL_HEIGHT)],
      range: row.range,
      anchor: 'free',
      position: col.yAxisAt / W,
      showline: true, linecolor: '#000', linewidth: 1.5,
      ticks: 'outside', ticklen: 7, tickwidth: 1.3, tickcolor: '#000',
      minor: { ticks: 'outside', ticklen: 4, tickwidth: 1.3, tickcolor: '#000',
               tickmode: 'linear', tick0: row.range[0], dtick: row.minor },
      tickfont: { family: FONT, size: TICK_SIZE, color: '#000' },
      showgrid: false,
      zeroline: !!row.zero, zerolinecolor: '#000', zerolinewidth: 1.2,
      fixedrange: true
    };
    if (row.tickvals) {
      yax.tickmode = 'array';
      yax.tickvals = row.tickvals;
      yax.ticktext = row.ticktext;
    } else {
      yax.tickmode = 'linear';
      yax.tick0 = row.range[0];
      yax.dtick = row.dtick;
      yax.tickformat = row.fmt;
    }
    layout['yaxis' + sfx] = yax;

    layout.annotations.push({
      text: rowLabels[r],
      xref: 'paper', yref: 'paper',
      x: col.labelX / W, y: py(bottom - PANEL_HEIGHT / 2 - 6),
      xanchor: 'center', yanchor: 'middle',
      textangle: -90, showarrow: false,
      font: { family: FONT, size: 32, color: '#000' }
    });
  });

  // column title and time label
  layout.annotations.push({
    text: col.title, xref: 'paper', yref: 'paper',
    x: col.titleX / W, y: py(2), xanchor: 'center', yanchor: 'top',
    showarrow: false, font: { family: FONT, size: 64, color: '#000' }
  });
  layout.annotations.push({
    text: 'Time (sec)', xref: 'paper', yref: 'paper',
    x: col.timeX / W, y: py(2461), xanchor: 'center', yanchor: 'middle',
    showarrow: false, font: { family: FONT, size: 32, color: '#000' }
  });

  // phase markers, drawn against the column's top x axis
  const xr = 'x' + (c === 0 ? '' : String(c * rows.length + 1));
  const lastBottom = PANEL_BOTTOM + PANEL_PITCH * (rows.length - 1);

  col.bounds.forEach(b => {
    layout.shapes.push({
      type: 'line', xref: xr, yref: 'paper',
      x0: b, x1: b, y0: py(lastBottom), y1: py(DASH_TOP),
      line: { color: '#444', width: 1.3, dash: '7px,4px' }
    });
  });

  col.names.forEach((name, k) => {
    const a = col.bounds[k], b = col.bounds[k + 1];
    layout.shapes.push({
      type: 'line', xref: xr, yref: 'paper',
      x0: a, x1: b, y0: py(ARROW_Y), y1: py(ARROW_Y),
      line: { color: '#000', width: 1.5 }
    });
    [[a, HEAD_LEN], [b, -HEAD_LEN]].forEach(([pos, len]) => {
      layout.shapes.push({
        type: 'path', xref: xr, yref: 'paper',
        xsizemode: 'pixel', ysizemode: 'pixel',
        xanchor: pos, yanchor: py(ARROW_Y),
        path: `M0,0L${len},${HEAD_HALF}L${len},${-HEAD_HALF}Z`,
        fillcolor: '#000', line: { width: 0 }
      });
    });
    layout.annotations.push({
      text: name, xref: xr, yref: 'paper',
      x: (a + b) / 2, y: py(130), xanchor: 'center', yanchor: 'middle',
      xshift: col.nameShift[k],
      showarrow: false, font: { family: FONT, size: 41, color: '#000' }
    });
  });
});

Plotly.newPlot('chart', traces, layout, { displayModeBar: false, staticPlot: true });
</script>
</body>
</html>
